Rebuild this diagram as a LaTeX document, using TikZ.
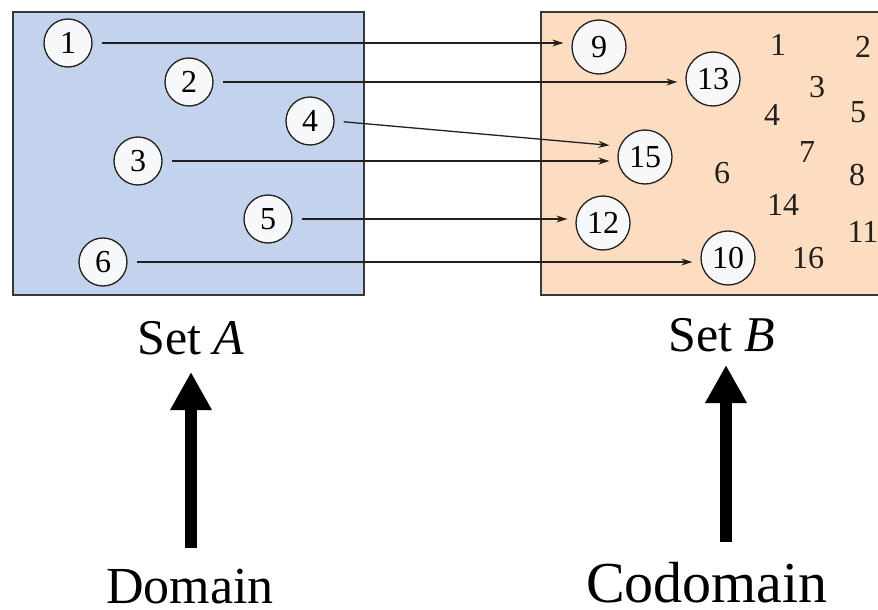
\documentclass[tikz,border=0pt]{standalone}
\usepackage{fontspec}
\setmainfont{Liberation Serif}
\usetikzlibrary{arrows.meta}
\definecolor{boxA}{HTML}{C4D3ED}
\definecolor{boxB}{HTML}{FDDDC2}
\definecolor{circfill}{HTML}{F7F8FA}
\definecolor{ink}{HTML}{231F1C}
\tikzset{
  setbox/.style={draw=black!78, line width=1.8pt},
  elA/.style={circle, draw=ink, line width=1.3pt, fill=circfill, minimum size=48pt, inner sep=0pt, font=\fontsize{32}{36}\selectfont},
  elB/.style={circle, draw=ink, line width=1.3pt, fill=circfill, minimum size=54pt, inner sep=0pt, font=\fontsize{32}{36}\selectfont},
  num/.style={inner sep=0pt, text=ink, font=\fontsize{32}{36}\selectfont},
  map/.style={draw=ink, line width=1.3pt, -{Stealth[length=11pt,width=7pt]}, shorten <=9pt, shorten >=8pt},
  lbl/.style={anchor=base, inner sep=0pt},
  bigarrow/.style={line width=12pt, -{Triangle[length=38pt,width=39pt]}}
}
\begin{document}
\begin{tikzpicture}[x=1pt,y=-1pt]
\useasboundingbox (0,0) rectangle (878,610);
% boxes
\fill[boxA] (13,12) rectangle (364,295);
\draw[setbox] (13,12) rectangle (364,295);
\fill[boxB] (541,12) rectangle (882,295);
\draw[setbox] (882,12) -- (541,12) -- (541,295) -- (882,295);
% domain elements
\node[elA] (a1) at (68,43) {1};
\node[elA] (a2) at (189,82) {2};
\node[elA] (a4) at (310,121) {4};
\node[elA] (a3) at (138,161) {3};
\node[elA] (a5) at (268,219) {5};
\node[elA] (a6) at (103,262) {6};
% codomain elements (images)
\node[elB] (b9) at (599,47) {9};
\node[elB] (b13) at (713,79) {13};
\node[elB] (b15) at (645,157) {15};
\node[elB] (b12) at (603,223) {12};
\node[elB] (b10) at (728,258) {10};
% other codomain elements
\node[num] (c1) at (778,45) {1};
\node[num] (c2) at (863,47) {2};
\node[num] (c3) at (817,87) {3};
\node[num] (c4) at (772,115) {4};
\node[num] (c5) at (858,112) {5};
\node[num] (c7) at (807,152) {7};
\node[num] (c6) at (722,173) {6};
\node[num] (c8) at (857,175) {8};
\node[num] (c14) at (783,205) {14};
\node[num] (c11) at (863,232) {11};
\node[num] (c16) at (808,258) {16};
% mapping arrows
\draw[map] (a1.east) -- (a1.east -| b9.west);
\draw[map] (a2.east) -- (a2.east -| b13.west);
\draw[map] (a4.east) -- ([yshift=11pt]b15.west);
\draw[map] (a3.east) -- (a3.east -| b15.west);
\draw[map] (a5.east) -- (a5.east -| b12.west);
\draw[map] (a6.east) -- (a6.east -| b10.west);
% labels
\node[lbl, font=\fontsize{50}{60}\selectfont] (setA) at (191,354) {Set \textit{A}};
\node[lbl, font=\fontsize{50}{60}\selectfont] (setB) at (722,351) {Set \textit{B}};
\node[lbl, font=\fontsize{52}{62}\selectfont] (dom) at (190,603) {Domain};
\node[lbl, font=\fontsize{58}{68}\selectfont] (cod) at (707,602) {Codomain};
% big arrows
\coordinate (da) at (191,548);
\coordinate (ta) at (191,372);
\coordinate (db) at (726,542);
\coordinate (tb) at (726,365);
\draw[bigarrow] (da) -- (ta);
\draw[bigarrow] (db) -- (tb);
\end{tikzpicture}
\end{document}
